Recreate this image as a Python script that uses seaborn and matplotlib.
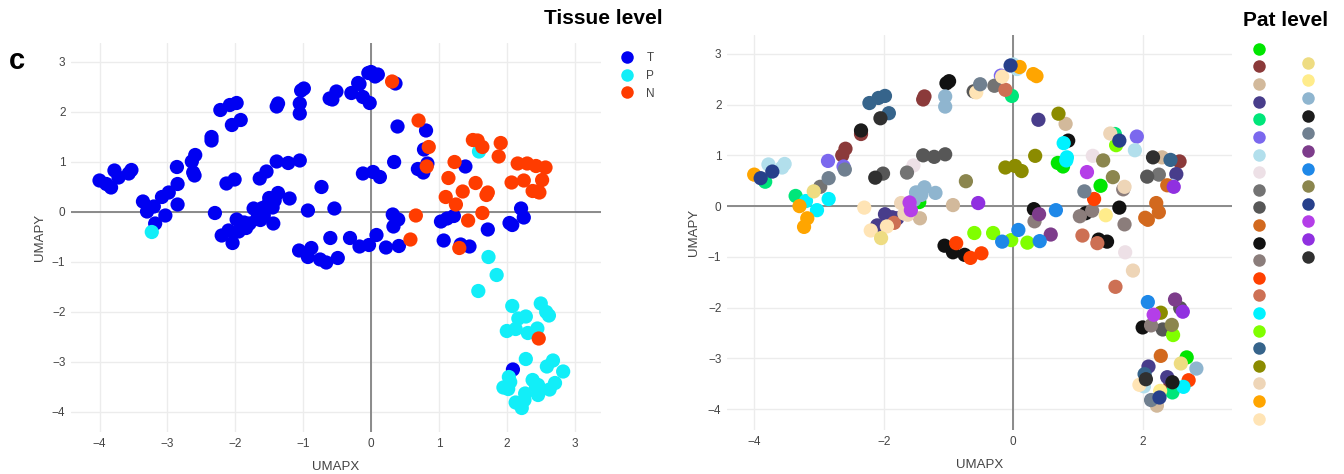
import matplotlib
matplotlib.use("Agg")
import matplotlib.pyplot as plt
import seaborn as sns
import pandas as pd
from matplotlib.lines import Line2D

# ---------------- data ----------------
umap_x = [-4.00, -3.90, -3.83, -3.78, -3.72, -3.53, -3.57,
          -3.36, -3.30, -3.20, -3.18, -3.23, -3.03, -3.08, -2.98, -2.85, -2.86, -2.85,
          -2.64, -2.59, -2.60, -2.62, -2.35, -2.35, -2.22, -2.08, -1.98, -2.05, -1.92,
          -2.13, -2.01, -2.30, -1.64, -1.54, -1.39, -1.22, -1.05, -1.37, -1.39, -1.03,
          -0.99, -1.05, -1.05, -0.61, -0.57, -0.51, -0.29, -0.19, -0.17, -0.12, -0.02,
          0.00, 0.10, -0.04, 0.06, 0.31, 0.36, -0.73, -0.12, 0.03, 0.13, -0.93, -0.54,
          -1.20, -1.37, -1.50, -1.42, -1.45, -1.60, -1.58, -1.73, -1.68, -1.44, -1.98,
          -1.87, -2.10, -1.84, -1.95, -2.20, -2.04, -1.63, -1.79, -1.53,
          -1.06, -0.88, -0.93, -0.75, -0.66, -0.49, -0.60, -0.31, -0.17, -0.03, 0.08,
          0.22, 0.41, 0.58, 0.32, 0.40, 0.33, 0.66, 1.07, 1.32, 1.45, 1.30, 1.03, 1.12,
          1.22, 1.43, 1.64, 1.72, 2.04, 2.08, 2.21, 2.25,
          0.39, 0.70, 0.81, 0.78, 0.85, 0.83, 0.82, 0.69, 0.77, 0.34, 1.23, 1.39, 1.14,
          1.54, 1.35, 1.72, 1.70, 1.10, 1.25, 1.50, 1.57, 1.64, 1.59, 1.91, 1.88, 2.16,
          2.30, 2.43, 2.57, 2.07, 2.25, 2.52, 2.38, 2.48, 2.45,
          1.73, 1.85, 1.58, 2.08, 2.50, 2.58, 2.62, 2.17, 2.28, 2.00, 2.13, 2.31, 2.45,
          2.47, 2.28, 2.68, 2.59, 2.83, 2.09, 2.03, 2.05, 1.95, 2.02, 2.38, 2.46, 2.71,
          2.63, 2.46, 2.27, 2.26, 2.13, 2.22, 2.43]
umap_y = [0.62, 0.55, 0.48, 0.82, 0.68, 0.83, 0.76,
          0.20, 0.00, 0.10, -0.24, -0.41, -0.08, 0.29, 0.38, 0.55, 0.89, 0.14,
          1.00, 1.13, 0.72, 0.78, 1.49, 1.42, 2.03, 2.13, 2.17, 1.73, 1.83,
          0.56, 0.64, -0.03, 0.66, 0.80, 1.00, 0.97, 1.02, 2.16, 2.10, 2.42,
          2.46, 2.16, 1.96, 2.26, 2.24, 2.40, 2.37, 2.57, 2.55, 2.29, 2.17,
          2.79, 2.74, 2.77, 2.70, 2.60, 2.56, 0.49, 0.76, 0.79, 0.69, 0.02, 0.06,
          0.26, 0.37, 0.27, 0.22, 0.08, 0.07, -0.08, 0.06, -0.15, -0.24, -0.16,
          -0.22, -0.38, -0.33, -0.40, -0.48, -0.63, -0.17, -0.24, 0.12,
          -0.78, -0.73, -0.91, -0.96, -1.02, -0.93, -0.53, -0.53, -0.70, -0.67, -0.47,
          -0.72, -0.69, -0.56, -0.06, -0.16, -0.30, -0.08, -0.58, -0.66, -0.70, -0.73, -0.20, -0.14,
          -0.09, -0.18, -0.03, -0.36, -0.23, -0.27, 0.06, -0.12,
          1.70, 1.82, 1.62, 1.24, 1.29, 0.96, 0.90, 0.85, 0.78, 0.99, 0.99, 0.90, 0.67,
          0.57, 0.40, 0.38, 0.33, 0.29, 0.14, 1.43, 1.42, 1.29, 1.20, 1.37, 1.10, 0.96,
          0.96, 0.91, 0.88, 0.58, 0.62, 0.63, 0.41, 0.38, 0.40,
          -0.91, -1.27, -1.59, -1.89, -1.84, -2.01, -2.08, -2.14, -2.10, -2.39, -2.35, -2.43, -2.34,
          -2.54, -2.95, -2.98, -3.10, -3.20, -3.16, -3.31, -3.41, -3.52, -3.55, -3.37, -3.47, -3.43,
          -3.56, -3.67, -3.64, -3.77, -3.82, -3.93, -3.50]
tissue = list(
    "TTTTTTT"
    "TTTTPTTTTTT"
    "TTTTTTTTTTT"
    "TTTTTTTTTTTTTTTTTTTTTTTTTT"
    "NTTTTTTT"
    "TTTTTTTTTTTTTTTTTTTT"
    "TTTTTTTTTTTTT" "N" "TTT" "N" "TTT" "N" "TTT" "NN" "TTTTT"
    "TNTTNTNTTTNT" "NNNNNNNNNN" "P" "NNNNNNNNNNNN"
    "PPPPPPPPPPPPP" "N" "PPPP" "T" "PPPPPPPPPPPPPP"
)
patient_idx = [21, 31, 5, 7, 31, 7, 7,
               5, 21, 16, 21, 21, 16, 23, 9, 27, 6, 16,
               2, 2, 27, 6, 26, 2, 18, 18, 18, 34, 18,
               34, 10, 22, 9, 8, 10, 10, 10, 2, 2, 12,
               12, 25, 25, 10, 22, 27, 9, 6, 22, 15, 5,
               7, 21, 31, 7, 21, 21, 30, 19, 19, 19, 3, 33,
               25, 25, 25, 25, 1, 32, 32, 20, 20, 3, 4,
               4, 4, 15, 22, 22, 23, 20, 4, 25,
               12, 14, 12, 12, 14, 14, 17, 17, 29, 17, 29,
               17, 29, 28, 12, 28, 13, 29, 15, 12, 12, 15, 13, 12,
               13, 24, 12, 13, 11, 11, 11, 11,
               4, 19, 3, 16, 12, 16, 16, 1, 1, 19, 8, 30, 32,
               30, 1, 20, 13, 27, 14, 20, 5, 31, 17, 6, 7, 34,
               3, 18, 2, 10, 9, 4, 11, 33, 7,
               8, 20, 15, 29, 28, 10, 33, 32, 19, 12, 13, 10, 30,
               17, 11, 1, 23, 25, 4, 18, 34, 22, 7, 4, 26, 14,
               16, 5, 24, 31, 27, 3, 2]

tissue_levels = ["T", "P", "N"]
tissue_colors = ["#0000f2", "#12eef8", "#ff3c00"]
patient_levels = [f"P{i:02d}" for i in range(1, 35)]
patient_colors = ["#00e600", "#8b3a3a", "#d2b99b", "#483d8b", "#00e67a", "#7b68ee",
                  "#b2dfec", "#ede0e6", "#737373", "#575757", "#d2691e", "#111111",
                  "#8b7d7b", "#ff4000", "#cd7054", "#00f2ff", "#80ff00", "#36648b",
                  "#8b8b00", "#eed5b7", "#ffa500", "#ffe4b5",
                  "#eedc82", "#ffec8b", "#8fb5cf", "#1c1c1c", "#708090", "#7d3c8b",
                  "#1e88e8", "#8b864e", "#27408b", "#b43ee8", "#9030e0", "#303030"]

patient = [patient_levels[i - 1] for i in patient_idx]
df = pd.DataFrame({"UMAPX": umap_x, "UMAPY": umap_y, "Tissue": tissue, "Patient": patient})

# ---------------- style ----------------
sns.set_theme(style="white")
plt.rcParams["font.family"] = ["Liberation Sans", "DejaVu Sans"]

W, H = 1344, 474
fig = plt.figure(figsize=(W / 100, H / 100), dpi=100)
ax1 = fig.add_axes([71 / W, 1 - 432 / H, 529.5 / W, 389 / H])
ax2 = fig.add_axes([727 / W, 1 - 430 / H, 505 / W, 395 / H])

xlim = (-4.42, 3.38)
ylim = (-4.41, 3.37)
tick_col = "#444444"

df_t = df.assign(_o=df["Tissue"].map({k: i for i, k in enumerate(tissue_levels)})).sort_values("_o", kind="stable")
df_p = df.assign(_o=df["Patient"].map({k: i for i, k in enumerate(patient_levels)})).sort_values("_o", kind="stable")

sns.scatterplot(data=df_t, x="UMAPX", y="UMAPY", hue="Tissue", hue_order=tissue_levels,
                palette=dict(zip(tissue_levels, tissue_colors)), s=105, linewidth=0,
                alpha=1, legend=False, ax=ax1, zorder=3)
sns.scatterplot(data=df_p, x="UMAPX", y="UMAPY", hue="Patient", hue_order=patient_levels,
                palette=dict(zip(patient_levels, patient_colors)), s=105, linewidth=0,
                alpha=1, legend=False, ax=ax2, zorder=3)

for ax, xt, lp in ((ax1, range(-4, 4), 4.5), (ax2, [-4, -2, 0, 2], 5.5)):
    ax.set_xlim(*xlim)
    ax.set_ylim(*ylim)
    ax.set_xticks(list(xt))
    ax.set_yticks(range(-4, 4))
    ax.grid(True, color="#ececec", linewidth=1.0, zorder=0)
    ax.axhline(0, color="#8a8a8a", linewidth=1.4, zorder=1)
    ax.axvline(0, color="#8a8a8a", linewidth=1.4, zorder=1)
    for sp in ax.spines.values():
        sp.set_visible(False)
    ax.tick_params(axis="both", length=0, labelsize=8.5, labelcolor=tick_col, pad=4)
    ax.set_xlabel("UMAPX", fontsize=9.5, color=tick_col, labelpad=8.5)
    ax.set_ylabel("UMAPY", fontsize=9.5, color=tick_col, labelpad=lp)
    ax.set_axisbelow(True)

# ---------------- legends ----------------
def dot(c, ms=9):
    return Line2D([], [], marker="o", linestyle="none", markersize=ms,
                  markerfacecolor=c, markeredgewidth=0)

fig.legend([dot(c) for c in tissue_colors], tissue_levels, loc="upper left",
           bbox_to_anchor=(621 / W, 1 - 52 / H), frameon=False, fontsize=8.5,
           labelcolor=tick_col, handlelength=1.0, handletextpad=1.15,
           labelspacing=0.49, borderpad=0, borderaxespad=0)

n1 = 22
fig.legend([dot(c) for c in patient_colors[:n1]], [""] * n1, loc="upper left",
           bbox_to_anchor=(1253 / W, 1 - 44 / H), frameon=False, fontsize=8.5,
           handlelength=1.0, handletextpad=0.5, labelspacing=0.475,
           borderpad=0, borderaxespad=0)
fig.legend([dot(c) for c in patient_colors[n1:]], [""] * (len(patient_colors) - n1),
           loc="upper left", bbox_to_anchor=(1302 / W, 1 - 58 / H), frameon=False,
           fontsize=8.5, handlelength=1.0, handletextpad=0.5, labelspacing=0.475,
           borderpad=0, borderaxespad=0)

# ---------------- titles ----------------
fig.text(603 / W, 1 - 18 / H, "Tissue level", ha="center", va="center",
         fontsize=15, fontweight="bold", color="black")
fig.text(1286 / W, 1 - 20 / H, "Pat level", ha="center", va="center",
         fontsize=15, fontweight="bold", color="black")
fig.text(17 / W, 1 - 61 / H, "c", ha="center", va="center",
         fontsize=21, fontweight="bold", color="black")

fig.savefig("out.png", dpi=100)
